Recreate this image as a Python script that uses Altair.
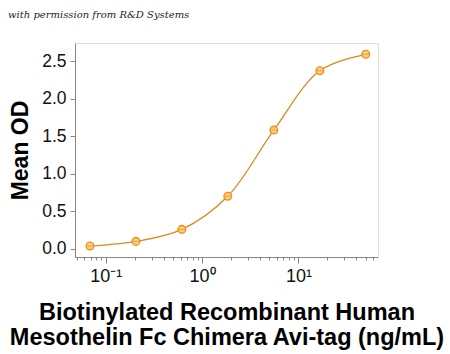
import altair as alt
import pandas as pd

conc = [0.0686, 0.206, 0.617, 1.85, 5.56, 16.7, 50.0]
od = [0.036, 0.098, 0.258, 0.70, 1.58, 2.37, 2.59]

minor_ticks = [m * 10 ** e for e in (-2, -1, 0, 1) for m in range(1, 10)]
minor_ticks = [v for v in minor_ticks if 0.048 <= v <= 67]

df = pd.DataFrame({"conc": conc, "od": od})

orange = "#E8911C"
line_col = "#D98A1E"

x = alt.X(
    "conc:Q",
    scale=alt.Scale(type="log", domain=[0.048, 67], nice=False),
    axis=alt.Axis(
        values=minor_ticks,
        labelExpr="datum.value==0.1?'10⁻¹':datum.value==1?'10⁰':datum.value==10?'10¹':''",
        tickSize={"condition": {"test": "datum.value==0.1||datum.value==1||datum.value==10", "value": 6}, "value": 3},
        grid=False,
        labelFont="Liberation Sans",
        labelFontSize=18,
        labelColor="#111",
        labelPadding=4,
        domainColor="#888",
        tickColor="#888",
        title=["Biotinylated Recombinant Human", "Mesothelin Fc Chimera Avi-tag (ng/mL)"],
        titleFont="Liberation Sans",
        titleFontSize=23.5,
        titleFontWeight="bold",
        titleLineHeight=25,
        titleColor="#000",
        titlePadding=15,
    ),
)
y = alt.Y(
    "od:Q",
    scale=alt.Scale(domain=[-0.11, 2.74], nice=False, zero=False),
    axis=alt.Axis(
        values=[0, 0.5, 1.0, 1.5, 2.0, 2.5],
        format=".1f",
        grid=False,
        labelFont="Liberation Sans",
        labelFontSize=17.5,
        labelColor="#111",
        tickSize=5,
        labelPadding=4,
        domainColor="#888",
        tickColor="#888",
        title="Mean OD",
        titleFont="Liberation Sans",
        titleFontSize=23,
        titleFontWeight="bold",
        titleColor="#000",
        titlePadding=9,
    ),
)

base = alt.Chart(df)
line = base.mark_line(color=line_col, strokeWidth=1.3, interpolate="catmull-rom").encode(x=x, y=y)
pts = base.mark_point(shape="circle", size=60, filled=True, fill="#F7CF80", stroke=orange, strokeWidth=1.3, opacity=1).encode(x=x, y=y)
bars = base.mark_tick(orient="horizontal", color=orange, size=8, thickness=1).encode(x=x, y=y)
note = alt.Chart(pd.DataFrame({"t": ["with permission from R&D Systems"]})).mark_text(
    font="DejaVu Serif", fontStyle="italic", fontSize=10, align="left", baseline="alphabetic", color="#222"
).encode(text="t:N", x=alt.value(-67), y=alt.value(-25))

chart = (line + pts + bars + note).properties(
    width=303,
    height=214,
    autosize=alt.AutoSizeParams(type="none"),
    padding={"left": 75, "top": 43, "right": 72, "bottom": 97},
).configure_view(stroke=None).configure(background="white")

chart.save("out.html", embed_options={"renderer": "svg", "actions": False})
